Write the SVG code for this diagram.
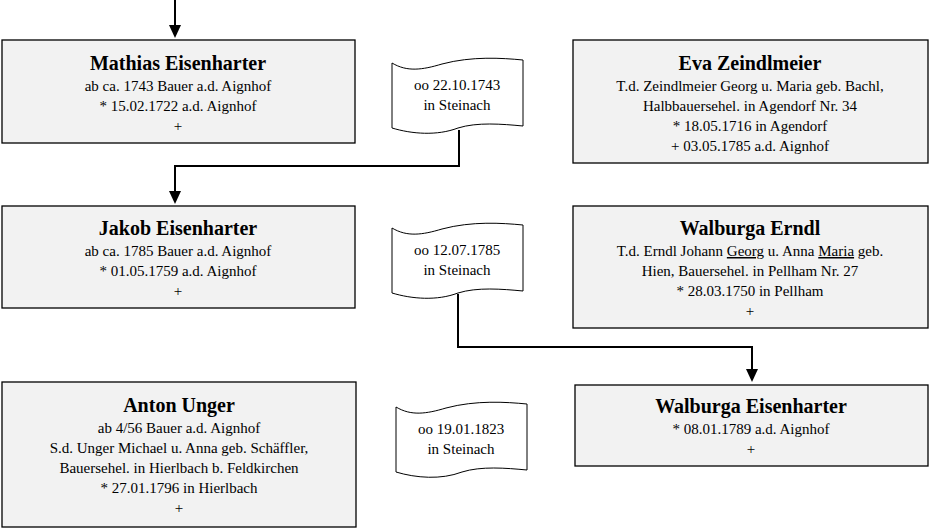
<svg xmlns="http://www.w3.org/2000/svg" width="930" height="529" viewBox="0 0 930 529">
<style>
.b{fill:#f2f2f2;stroke:#000;stroke-width:1.3}
.s{fill:#fff;stroke:#000;stroke-width:1}
text{font-family:"Liberation Serif",serif;text-anchor:middle;fill:#000}
.n{font-size:20px;font-weight:bold}
.t{font-size:15px}
.c{fill:none;stroke:#000;stroke-width:2}
</style>
<defs><marker id="a" viewBox="0 0 10 10" refX="9" refY="5" markerWidth="6" markerHeight="6" orient="auto" markerUnits="userSpaceOnUse" style="overflow:visible"><path d="M0,0L10,5L0,10z" fill="#000" transform="scale(1.4) translate(-3,-1.4)"/></marker>
<path id="sc" d="M0,3 C15,12 30,10 50,4 C80,-4 110,-2 131,0 L131,66 C110,64 85,62 66,68 C45,76 20,74 0,68 Z"/></defs>
<g id="connectors">
<path class="c" d="M175,0V36"/><path d="M169,25L175,38L181,25Z"/>
<path class="c" d="M459,130V166H175V200"/><path d="M169,191L175,204L181,191Z"/>
<path class="c" d="M458,294V347H752V378"/><path d="M746,369L752,382L758,369Z"/>
</g>
<g id="n1"><rect class="b" x="2" y="40" width="353" height="103"/>
<text class="n" x="178" y="70">Mathias Eisenharter</text>
<text class="t" x="178" y="91">ab ca. 1743 Bauer a.d. Aignhof</text>
<text class="t" x="178" y="111">* 15.02.1722 a.d. Aignhof</text>
<text class="t" x="178" y="131">+</text></g>
<g id="m1"><use href="#sc" class="s" x="392" y="60"/>
<text class="t" x="457" y="90">oo 22.10.1743</text><text class="t" x="457" y="110">in Steinach</text></g>
<g id="n2"><rect class="b" x="573" y="40" width="355" height="123"/>
<text class="n" x="750" y="70">Eva Zeindlmeier</text>
<text class="t" x="750" y="91">T.d. Zeindlmeier Georg u. Maria geb. Bachl,</text>
<text class="t" x="750" y="111">Halbbauersehel. in Agendorf Nr. 34</text>
<text class="t" x="750" y="131">* 18.05.1716 in Agendorf</text>
<text class="t" x="750" y="151">+ 03.05.1785 a.d. Aignhof</text></g>
<g id="n3"><rect class="b" x="2" y="206" width="353" height="102"/>
<text class="n" x="178" y="235">Jakob Eisenharter</text>
<text class="t" x="178" y="256">ab ca. 1785 Bauer a.d. Aignhof</text>
<text class="t" x="178" y="276">* 01.05.1759 a.d. Aignhof</text>
<text class="t" x="178" y="296">+</text></g>
<g id="m2"><use href="#sc" class="s" x="392" y="225"/>
<text class="t" x="457" y="255">oo 12.07.1785</text><text class="t" x="457" y="275">in Steinach</text></g>
<g id="n4"><rect class="b" x="573" y="206" width="355" height="122"/>
<text class="n" x="750" y="235">Walburga Erndl</text>
<text class="t" x="750" y="256">T.d. Erndl Johann <tspan text-decoration="underline">Georg</tspan> u. Anna <tspan text-decoration="underline">Maria</tspan> geb.</text>
<text class="t" x="750" y="276">Hien, Bauersehel. in Pellham Nr. 27</text>
<text class="t" x="750" y="296">* 28.03.1750 in Pellham</text>
<text class="t" x="750" y="316">+</text></g>
<g id="n5"><rect class="b" x="2" y="382" width="354" height="145"/>
<text class="n" x="179" y="412">Anton Unger</text>
<text class="t" x="179" y="433">ab 4/56 Bauer a.d. Aignhof</text>
<text class="t" x="179" y="453">S.d. Unger Michael u. Anna geb. Schäffler,</text>
<text class="t" x="179" y="473">Bauersehel. in Hierlbach b. Feldkirchen</text>
<text class="t" x="179" y="493">* 27.01.1796 in Hierlbach</text>
<text class="t" x="179" y="513">+</text></g>
<g id="m3"><use href="#sc" class="s" x="396" y="404"/>
<text class="t" x="461" y="434">oo 19.01.1823</text><text class="t" x="461" y="454">in Steinach</text></g>
<g id="n6"><rect class="b" x="575" y="385" width="353" height="81"/>
<text class="n" x="751" y="413">Walburga Eisenharter</text>
<text class="t" x="751" y="434">* 08.01.1789 a.d. Aignhof</text>
<text class="t" x="751" y="454">+</text></g>
</svg>
